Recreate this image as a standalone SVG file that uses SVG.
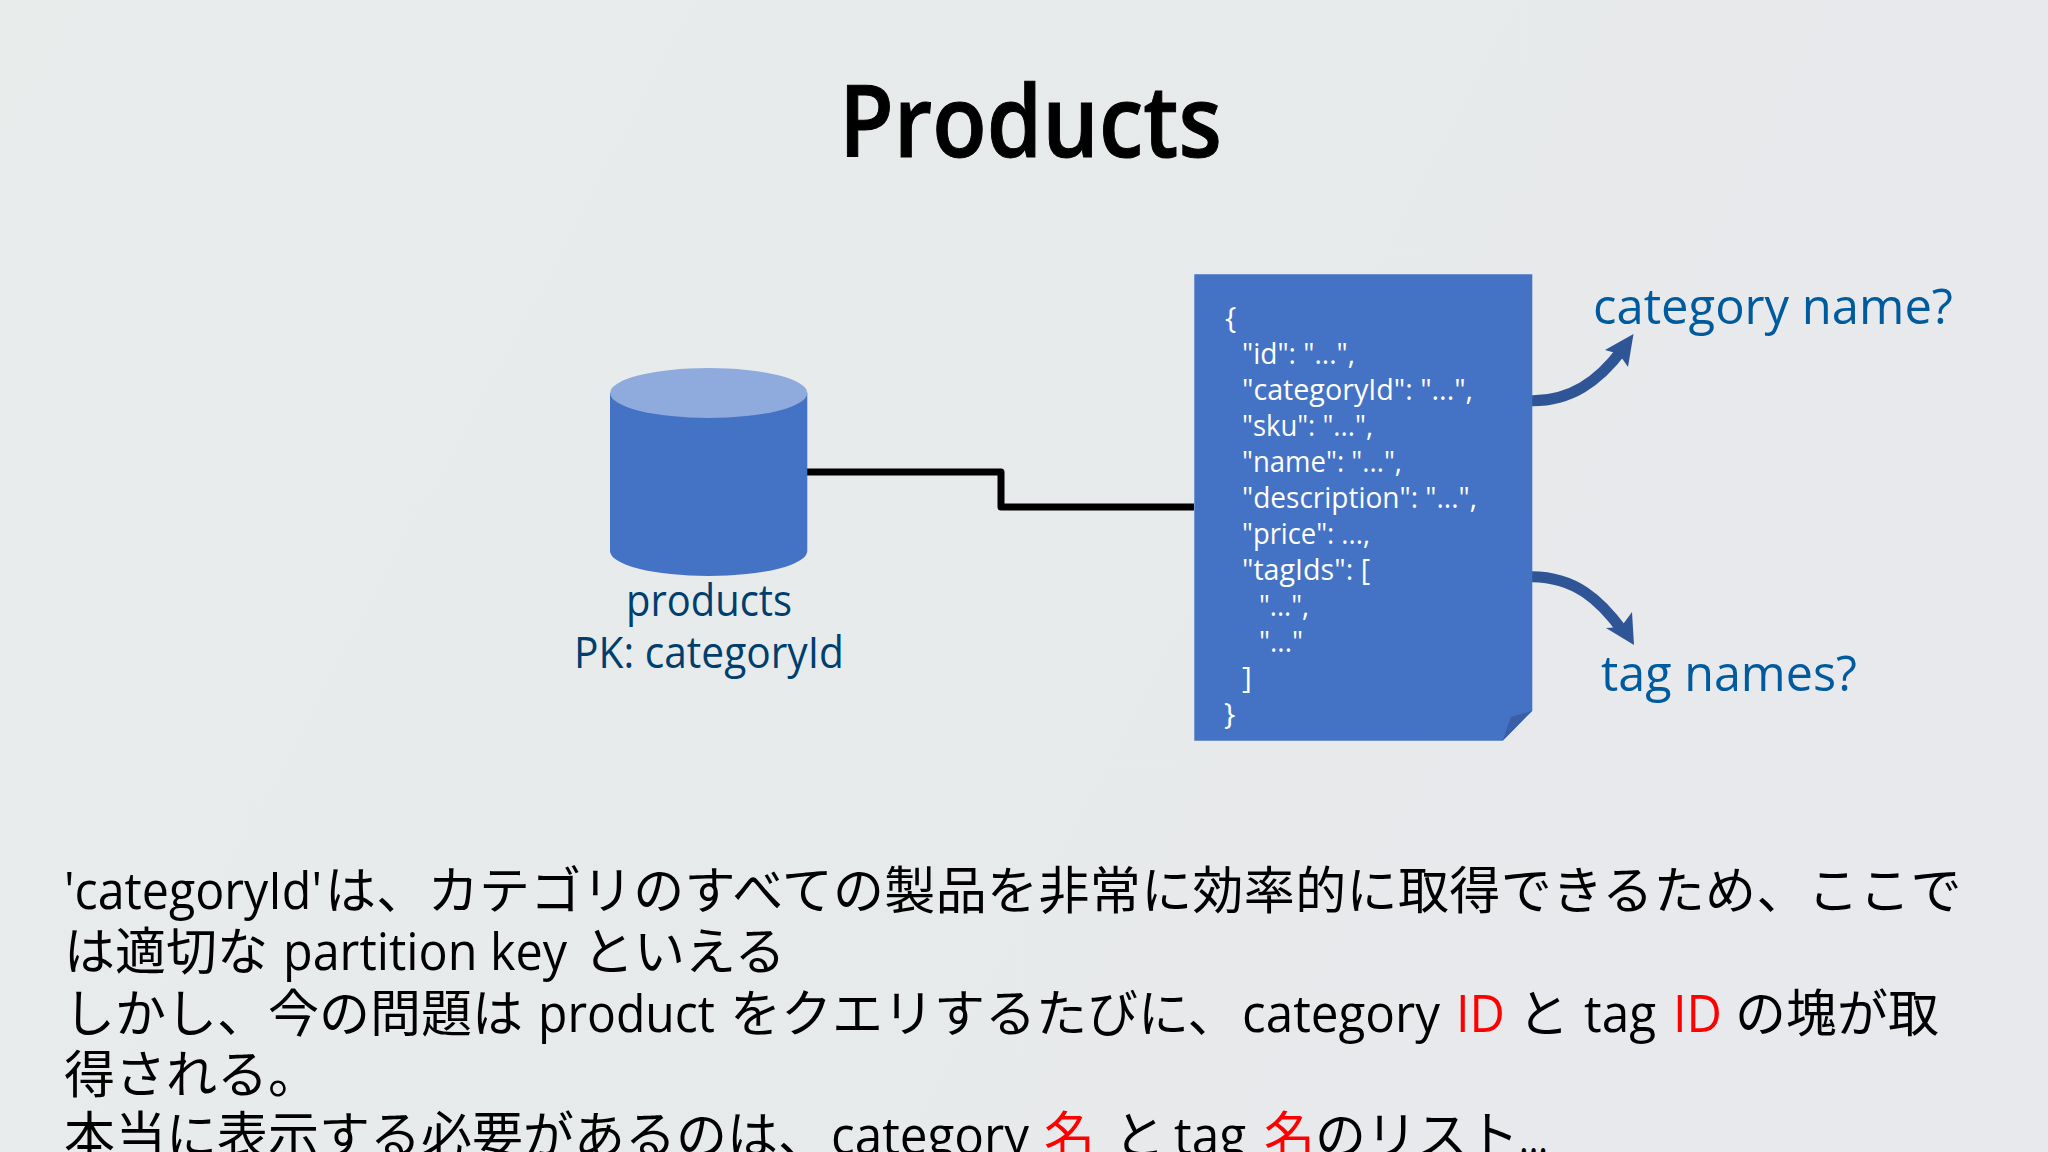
<svg xmlns="http://www.w3.org/2000/svg" width="2048" height="1152" viewBox="0 0 2048 1152">
<defs>
<linearGradient id="bg" x1="0" y1="0" x2="1" y2="0.3"><stop offset="0" stop-color="#e8eceb"/><stop offset="1" stop-color="#e7e9ec"/></linearGradient>
</defs>
<style>
text{font-family:"Open Sans","Noto Sans","Noto Sans CJK JP",sans-serif}
.b text{font-size:51px;fill:#000;font-family:"Open Sans","Noto Sans CJK JP",sans-serif}
.b text.r{fill:#f00}
.j{font-size:30px;fill:#fff}
.lab{font-size:49px;fill:#005a9e}
.db{font-size:43px;fill:#003e6e;text-anchor:middle}
.link{fill:none;stroke:#000;stroke-width:7;stroke-linejoin:round}
.curve{fill:none;stroke:#2f5597;stroke-width:11}
.head{fill:#2f5597}
</style>
<rect width="2048" height="1152" fill="url(#bg)"/>
<text id="title" x="839" y="157" font-size="100" font-weight="600" fill="#000" stroke="#000" stroke-width="1" textLength="383" lengthAdjust="spacingAndGlyphs">Products</text>
<g id="connectors">
<path class="link" d="M807 472H1001V507H1194"/>
<path class="curve" d="M1532 400.7C1570 401 1598 382 1622 350"/>
<polygon class="head" points="1633.5,334 1605,350 1619,354 1628,367"/>
<path class="curve" d="M1532 576.7C1575 577 1600 600 1622 630"/>
<polygon class="head" points="1634,645 1606,628 1621,627 1632,612"/>
</g>
<g id="products">
<path d="M610 393V551A98.6 25 0 0 0 807.3 551V393Z" fill="#4472c4"/>
<ellipse cx="708.7" cy="393" rx="98.6" ry="25" fill="#8faadc"/>
<text class="db" x="709" y="616" textLength="166" lengthAdjust="spacingAndGlyphs">products</text>
<text class="db" x="709" y="668" textLength="270" lengthAdjust="spacingAndGlyphs">PK: categoryId</text>
</g>
<g id="document">
<path d="M1194.3 274.3H1532.3V710.7L1502.7 740.7H1194.3Z" fill="#4472c4"/>
<polygon points="1502.7,740.7 1511,717 1532.3,710.7" fill="#3a5ea8"/>
<text class="j" x="1225" y="328">{</text>
<text class="j" x="1242" y="364" textLength="113" lengthAdjust="spacingAndGlyphs">"id": "...",</text>
<text class="j" x="1242" y="400" textLength="231" lengthAdjust="spacingAndGlyphs">"categoryId": "...",</text>
<text class="j" x="1242" y="436" textLength="131" lengthAdjust="spacingAndGlyphs">"sku": "...",</text>
<text class="j" x="1242" y="472" textLength="160" lengthAdjust="spacingAndGlyphs">"name": "...",</text>
<text class="j" x="1242" y="508" textLength="235" lengthAdjust="spacingAndGlyphs">"description": "...",</text>
<text class="j" x="1242" y="544" textLength="128" lengthAdjust="spacingAndGlyphs">"price": ...,</text>
<text class="j" x="1242" y="580" textLength="128" lengthAdjust="spacingAndGlyphs">"tagIds": [</text>
<text class="j" x="1259" y="616" textLength="50" lengthAdjust="spacingAndGlyphs">"...",</text>
<text class="j" x="1259" y="652" textLength="44" lengthAdjust="spacingAndGlyphs">"..."</text>
<text class="j" x="1242" y="688">]</text>
<text class="j" x="1224" y="724">}</text>
</g>
<g id="category-name"><text class="lab" x="1593" y="324" textLength="360" lengthAdjust="spacingAndGlyphs">category name?</text></g>
<g id="tag-names"><text class="lab" x="1601" y="691" textLength="256" lengthAdjust="spacingAndGlyphs">tag names?</text></g>
<g id="body" class="b">
<text x="64" y="909" textLength="258" lengthAdjust="spacingAndGlyphs">'categoryId'</text>
<text x="325" y="909" letter-spacing="0.36">は、カテゴリのすべての製品を非常に効率的に取得できるため、ここで</text>
<text x="64" y="970">は適切な</text>
<text x="283" y="970" textLength="284" lengthAdjust="spacingAndGlyphs">partition key</text>
<text x="583" y="970">といえる</text>
<text x="64" y="1032">しかし、今の問題は</text>
<text x="538" y="1032" textLength="177" lengthAdjust="spacingAndGlyphs">product</text>
<text x="730" y="1032">をクエリするたびに、</text>
<text x="1242" y="1032" textLength="198" lengthAdjust="spacingAndGlyphs">category</text>
<text class="r" x="1456" y="1032" textLength="49" lengthAdjust="spacingAndGlyphs">ID</text>
<text x="1518" y="1032">と</text>
<text x="1584" y="1032" textLength="72" lengthAdjust="spacingAndGlyphs">tag</text>
<text class="r" x="1673" y="1032" textLength="49" lengthAdjust="spacingAndGlyphs">ID</text>
<text x="1735" y="1032">の塊が取</text>
<text x="64" y="1093">得される。</text>
<text x="64" y="1154">本当に表示する必要があるのは、</text>
<text x="831" y="1154" textLength="198" lengthAdjust="spacingAndGlyphs">category</text>
<text class="r" x="1044" y="1154">名</text>
<text x="1114" y="1154">と</text>
<text x="1174" y="1154" textLength="72" lengthAdjust="spacingAndGlyphs">tag</text>
<text class="r" x="1264" y="1154">名</text>
<text x="1315" y="1154">のリスト</text>
<text x="1519" y="1154" textLength="29" lengthAdjust="spacingAndGlyphs">...</text>
</g>
</svg>
